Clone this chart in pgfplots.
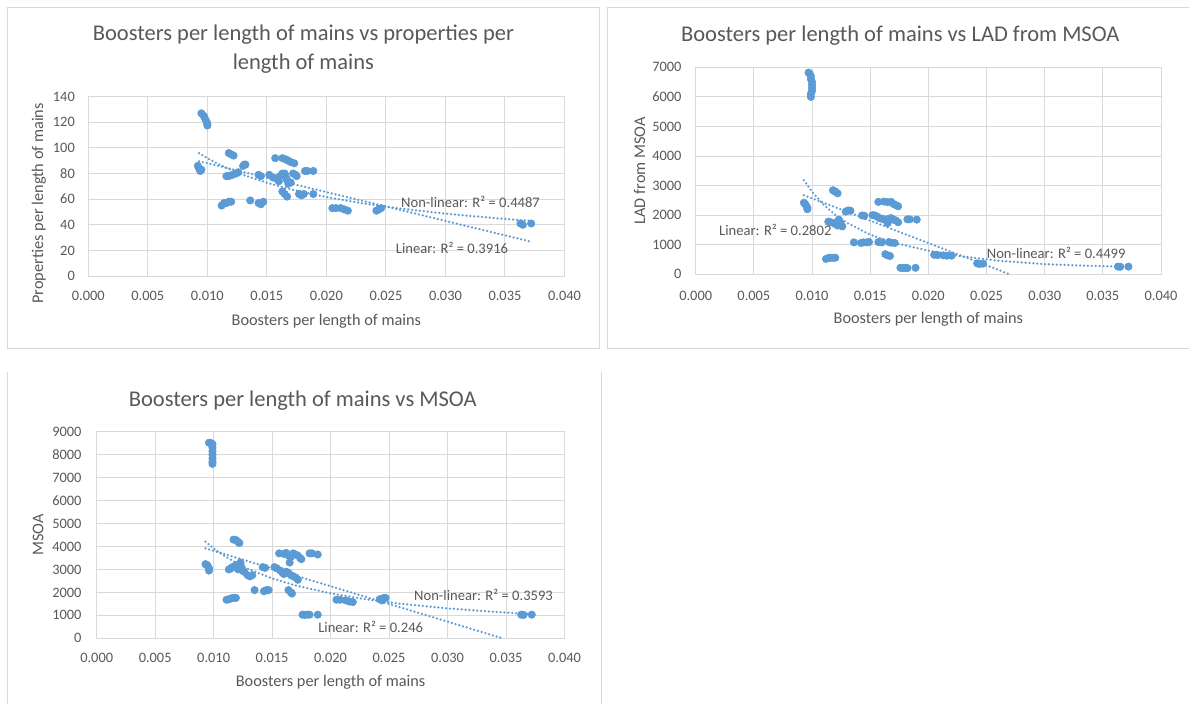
\documentclass[border=0pt]{standalone}
\usepackage{fontspec}
\setmainfont{Carlito}
\usepackage{pgfplots}
\pgfplotsset{compat=1.18}
\definecolor{xlblue}{HTML}{5B9BD5}
\definecolor{xltext}{HTML}{595959}
\definecolor{xlgrid}{HTML}{D9D9D9}

\pgfplotsset{
  xlscatter/.style={
    scale only axis,
    xmin=0, xmax=0.04, ymin=0,
    xtick={0,0.005,0.01,0.015,0.02,0.025,0.03,0.035,0.04},
    xticklabels={0.000,0.005,0.010,0.015,0.020,0.025,0.030,0.035,0.040},
    grid=major,
    major grid style={xlgrid, line width=1pt},
    axis line style={xlgrid, line width=1pt},
    major tick length=0pt,
    tick label style={font=\fontsize{14.4}{16}\selectfont, text=xltext, inner sep=0pt},
    xticklabel style={anchor=north},
    yticklabel style={anchor=east},
    scaled ticks=false,
    /pgf/number format/assume math mode=true,
    /pgf/number format/1000 sep={},
  },
  pts/.style={only marks, color=xlblue, mark=*, mark size=3.7pt,
    mark options={draw=xlblue, fill=xlblue, line width=0.6pt}},
  trend/.style={no marks, color=xlblue, line width=2.5pt, line cap=round, dash pattern=on 0pt off 3.9pt},
}
\tikzset{
  ttl/.style={anchor=base, inner sep=0pt, text=xltext, font=\fontsize{22.5}{27}\selectfont},
  atl/.style={anchor=base, inner sep=0pt, text=xltext, font=\fontsize{16.3}{19}\selectfont},
  rsq/.style={inner sep=0pt, text=xltext, font=\fontsize{14.6}{17}\selectfont},
  panel/.style={xlgrid, line width=1pt},
}

\begin{document}
\begin{tikzpicture}
\path[use as bounding box, fill=white] (0,0) rectangle (1189pt,-704pt);

% panel frames
\draw[panel] (7.3pt,-7.3pt) rectangle (599.7pt,-348.3pt);
\draw[panel] (1195pt,-7.3pt) -- (607.3pt,-7.3pt) -- (607.3pt,-348.3pt) -- (1195pt,-348.3pt);
\draw[panel] (7.3pt,-371.7pt) -- (7.3pt,-710pt);
\draw[panel] (601pt,-371.7pt) -- (601pt,-710pt);

% ---------- chart 1: properties per length of mains ----------
\begin{axis}[xlscatter,
  at={(88.3pt,-276pt)}, anchor=south west,
  width=476.2pt, height=179.3pt,
  ymax=140, ytick={0,20,40,60,80,100,120,140},
  xticklabel style={yshift=-15pt},
  yticklabel style={xshift=-13.3pt}]
\addplot[pts] table {
0.0095 127
0.0097 125
0.0098 123
0.0099 121
0.0100 119
0.0100 117.5
0.0092 86
0.0093 84
0.0094 82
0.0095 83
0.0118 96
0.0120 95
0.0122 94
0.0116 78
0.0118 78
0.0121 79
0.0124 80
0.0126 81
0.0130 86
0.0131 87
0.0132 87
0.0112 55
0.0114 57
0.0116 57
0.0118 58
0.0120 58
0.0136 59
0.0143 79
0.0145 78
0.0143 57
0.0145 56
0.0147 58
0.0152 79
0.0155 77
0.0157 92
0.0163 92
0.0166 91
0.0168 90
0.0170 89
0.0173 88
0.0158 76
0.0160 74
0.0161 78
0.0163 80
0.0165 80
0.0166 77
0.0167 75
0.0168 72
0.0170 73
0.0172 80
0.0174 79
0.0175 78
0.0163 66
0.0165 64
0.0167 62
0.0177 64
0.0179 63
0.0181 64
0.0182 82
0.0184 82
0.0189 82
0.0189 64
0.0205 53
0.0208 53
0.0212 53
0.0215 52
0.0218 51
0.0242 51
0.0244 52
0.0246 53
0.0363 41
0.0365 40
0.0372 41
};
% power trend
\addplot[trend] table {
0.0093 96
0.0100 92.0
0.0110 87.1
0.0120 82.8
0.0130 79.0
0.0150 72.8
0.0170 67.7
0.0200 61.6
0.0230 56.8
0.0260 52.9
0.0300 48.7
0.0340 45.3
0.0372 43.0
};
% linear trend
\addplot[trend] table {
0.0093 89.6
0.0372 26.8
};
\end{axis}
\node[ttl] at (303.4pt,-40.7pt) {Boosters per length of mains vs properties per};
\node[ttl] at (303.4pt,-69pt) {length of mains};
\node[atl] at (326.4pt,-325pt) {Boosters per length of mains};
\node[atl, rotate=90] at (43pt,-203.3pt) {Properties per length of mains};
\node[rsq, anchor=base west] at (401pt,-207.7pt) {Non-linear: R² = 0.4487};
\node[rsq, anchor=base east] at (508.3pt,-253.3pt) {Linear: R² = 0.3916};

% ---------- chart 2: LAD from MSOA ----------
\begin{axis}[xlscatter,
  at={(695.7pt,-274.3pt)}, anchor=south west,
  width=465.3pt, height=207pt,
  ymax=7000, ytick={0,1000,2000,3000,4000,5000,6000,7000},
  xticklabel style={yshift=-16.4pt},
  yticklabel style={xshift=-14pt}]
\addplot[pts] table {
0.0097 6820
0.0098 6780
0.0099 6700
0.0099 6600
0.0100 6500
0.0100 6400
0.0100 6300
0.0100 6200
0.0099 6100
0.0099 6000
0.0093 2420
0.0094 2380
0.0095 2320
0.0096 2250
0.0096 2200
0.0118 2840
0.0120 2800
0.0122 2740
0.0114 1780
0.0116 1760
0.0118 1740
0.0120 1700
0.0122 1650
0.0123 1850
0.0124 1780
0.0125 1660
0.0126 1620
0.0129 2120
0.0131 2160
0.0133 2150
0.0112 520
0.0114 550
0.0116 560
0.0118 560
0.0120 560
0.0136 1080
0.0142 1060
0.0144 1080
0.0147 1080
0.0149 1090
0.0143 1990
0.0145 1980
0.0157 2450
0.0162 2460
0.0165 2440
0.0168 2450
0.0170 2380
0.0172 2340
0.0174 2300
0.0152 2000
0.0154 1990
0.0156 1950
0.0158 1900
0.0160 1880
0.0162 1860
0.0164 1820
0.0165 1730
0.0166 1880
0.0168 1900
0.0170 1850
0.0172 1820
0.0174 1760
0.0182 1860
0.0184 1860
0.0190 1850
0.0157 1090
0.0160 1080
0.0166 1090
0.0168 1070
0.0171 1060
0.0163 680
0.0165 640
0.0167 620
0.0176 220
0.0178 210
0.0180 220
0.0182 210
0.0189 220
0.0205 660
0.0208 650
0.0213 640
0.0216 630
0.0220 630
0.0242 370
0.0244 350
0.0247 360
0.0363 260
0.0365 255
0.0372 260
};
% power trend
\addplot[trend] table {
0.0093 3183
0.0100 2790
0.0110 2350
0.0120 2010
0.0130 1740
0.0150 1340
0.0170 1070
0.0200 800
0.0230 600
0.0260 460
0.0300 345
0.0340 285
0.0372 255
};
% linear trend
\addplot[trend] table {
0.0093 2675
0.0270 0
};
\end{axis}
\node[ttl] at (900.3pt,-41.7pt) {Boosters per length of mains vs LAD from MSOA};
\node[atl] at (928.4pt,-323pt) {Boosters per length of mains};
\node[atl, rotate=90] at (645pt,-170.8pt) {LAD from MSOA};
\node[rsq, anchor=base west] at (719pt,-235.7pt) {Linear: R² = 0.2802};
\node[rsq, anchor=base east] at (1125.7pt,-258.3pt) {Non-linear: R² = 0.4499};

% ---------- chart 3: MSOA ----------
\begin{axis}[xlscatter,
  at={(96.7pt,-638.3pt)}, anchor=south west,
  width=467.8pt, height=206.6pt,
  ymax=9000, ytick={0,1000,2000,3000,4000,5000,6000,7000,8000,9000},
  xticklabel style={yshift=-15pt},
  yticklabel style={xshift=-15pt}]
\addplot[pts] table {
0.0096 8520
0.0098 8500
0.0099 8450
0.0099 8300
0.0099 8150
0.0099 8000
0.0099 7850
0.0099 7700
0.0099 7600
0.0093 3230
0.0094 3200
0.0095 3150
0.0096 3050
0.0096 2950
0.0117 4300
0.0119 4280
0.0121 4200
0.0122 4150
0.0113 3000
0.0115 3050
0.0116 3100
0.0118 3150
0.0120 3200
0.0121 3000
0.0122 3100
0.0123 3300
0.0124 3050
0.0125 2950
0.0126 2900
0.0123 3200
0.0129 2750
0.0131 2700
0.0133 2750
0.0111 1680
0.0113 1700
0.0115 1740
0.0117 1760
0.0119 1760
0.0135 2100
0.0143 2050
0.0145 2100
0.0147 2100
0.0142 3100
0.0144 3070
0.0152 3100
0.0154 3050
0.0156 3700
0.0160 3680
0.0162 3720
0.0164 3600
0.0166 3550
0.0168 3700
0.0170 3650
0.0172 3600
0.0174 3500
0.0175 3450
0.0165 3300
0.0157 2950
0.0159 2850
0.0160 2800
0.0162 2900
0.0164 2850
0.0166 2750
0.0168 2700
0.0170 2650
0.0172 2550
0.0164 2100
0.0166 2000
0.0167 1950
0.0182 3700
0.0184 3700
0.0189 3650
0.0176 1030
0.0178 1020
0.0180 1030
0.0182 1030
0.0189 1030
0.0205 1680
0.0208 1680
0.0213 1650
0.0216 1600
0.0219 1580
0.0242 1700
0.0244 1650
0.0245 1750
0.0247 1760
0.0363 1030
0.0365 1020
0.0372 1030
};
% power trend
\addplot[trend] table {
0.0093 4210
0.0100 3915
0.0110 3559
0.0120 3263
0.0130 3012
0.0150 2610
0.0170 2303
0.0200 1958
0.0230 1702
0.0260 1506
0.0300 1305
0.0340 1152
0.0372 1053
};
% linear trend
\addplot[trend] table {
0.0093 3920
0.0347 0
};
\end{axis}
\node[ttl] at (302.8pt,-406.7pt) {Boosters per length of mains vs MSOA};
\node[atl] at (330.6pt,-686.3pt) {Boosters per length of mains};
\node[atl, rotate=90] at (43.3pt,-535pt) {MSOA};
\node[rsq, anchor=base west] at (414pt,-600.7pt) {Non-linear: R² = 0.3593};
\node[rsq, anchor=base east] at (423.3pt,-632.7pt) {Linear: R² = 0.246};
\end{tikzpicture}
\end{document}
